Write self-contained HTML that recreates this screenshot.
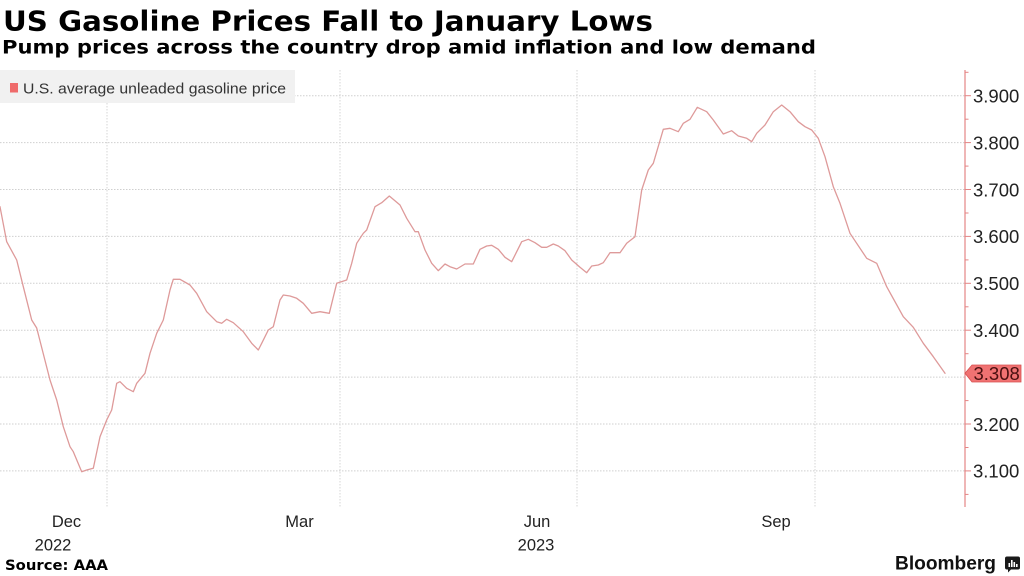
<!DOCTYPE html>
<html>
<head>
<meta charset="utf-8">
<style>
html,body{margin:0;padding:0;background:#fff;}
body{width:1024px;height:576px;overflow:hidden;}
svg{display:block;}
</style>
</head>
<body>
<svg width="1024" height="576" viewBox="0 0 1024 576" xmlns="http://www.w3.org/2000/svg">
<rect x="0" y="0" width="1024" height="576" fill="#ffffff"/>
<!-- Title -->
<text x="3" y="30.5" font-family="DejaVu Sans, Liberation Sans, sans-serif" font-weight="bold" font-size="28" fill="#000" textLength="650" lengthAdjust="spacingAndGlyphs">US Gasoline Prices Fall to January Lows</text>
<text x="2" y="53.5" font-family="DejaVu Sans, Liberation Sans, sans-serif" font-weight="bold" font-size="19" fill="#000" textLength="814" lengthAdjust="spacingAndGlyphs">Pump prices across the country drop amid inflation and low demand</text>

<!-- Horizontal gridlines -->
<g stroke="#cfcfcf" stroke-width="1" stroke-dasharray="1.5,1.5">
<line x1="0" y1="95.7" x2="965" y2="95.7"/>
<line x1="0" y1="142.6" x2="965" y2="142.6"/>
<line x1="0" y1="189.5" x2="965" y2="189.5"/>
<line x1="0" y1="236.4" x2="965" y2="236.4"/>
<line x1="0" y1="283.3" x2="965" y2="283.3"/>
<line x1="0" y1="330.2" x2="965" y2="330.2"/>
<line x1="0" y1="377.1" x2="965" y2="377.1"/>
<line x1="0" y1="424" x2="965" y2="424"/>
<line x1="0" y1="470.9" x2="965" y2="470.9"/>
</g>
<!-- Vertical gridlines -->
<g stroke="#d6d6d6" stroke-width="1" stroke-dasharray="1.5,1.5">
<line x1="107" y1="70" x2="107" y2="508"/>
<line x1="340" y1="70" x2="340" y2="508"/>
<line x1="577" y1="70" x2="577" y2="508"/>
<line x1="815" y1="70" x2="815" y2="508"/>
</g>

<!-- Legend -->
<rect x="0" y="70" width="295" height="33" fill="#f1f1f1"/>
<rect x="10" y="83" width="8" height="9.5" fill="#ef6b6b"/>
<text x="23" y="93.3" font-family="Liberation Sans, DejaVu Sans, sans-serif" font-size="15" fill="#333" textLength="263" lengthAdjust="spacingAndGlyphs">U.S. average unleaded gasoline price</text>

<!-- Data line -->
<polyline fill="none" stroke="#de9a9a" stroke-width="1.3" stroke-linejoin="round" stroke-linecap="round" points="0,206.7 6.7,241.7 16.7,260 23.3,286.7 31.7,320 36.7,328 50,380 56.7,400 63.3,426.7 70,446.7 73.3,451.7 81.7,471.7 86.7,470 93.3,468.3 100,436.7 106.7,420 111.7,410 116.7,383.3 120,381.7 126.7,388.3 133.3,391.7 136.7,383.3 145,373.3 150,353.3 156.7,333.3 163.3,320 170,290 173.3,279.3 180,279.3 190,285 196.7,293.3 206.7,311.7 216.7,321.7 221.7,323.3 226.7,319.3 233.3,322.7 243.3,331.7 251.7,343.3 258.3,350 261.7,343.3 268.3,330 273.3,326.7 280,300 283.3,295 290,296 296.7,298.3 303.3,303.3 311.7,313.3 320,311.7 329.3,313.3 336.7,283.3 346.7,280 351.7,263.3 356.7,243.3 363.3,233.3 366.7,230 375,206.7 381.7,202.7 389.3,196 400,205 406.7,218.3 415,231.7 418.3,231.7 425,250 431.7,263.3 438.3,270.7 445,264 450,266.7 456.7,269 465,264 473.3,264 480,249.3 486.7,246 491.7,245.3 498.3,249.3 505,257.3 511.7,261.7 516.7,251.7 521.7,241.7 528.3,239.3 535,242.7 541.7,247.3 546.7,247.3 553.3,244 558.3,246 565,250.7 571.7,260 580,267.3 586.7,272.7 591.7,266 598.3,265 603.3,262.7 610,252.7 620,252.7 626.7,243.3 635,236.7 641.7,190 648.3,170 653.3,163.3 663.3,129.3 670,128.3 678.3,131.7 683.3,123.3 690,119.3 697.3,107.3 706.7,111.7 713.3,120 723.3,134 731.7,130.7 738.3,136 746.7,138.3 751.7,141.7 756.7,133.3 765,125 773.3,111.7 781.7,105 790,111.7 798.3,121.7 805,126.7 811.7,130 818.3,138.3 825,156.7 833.3,186.7 840,203.3 850,233.3 866.7,258.3 876.7,263.3 886.7,286.7 903.3,316.7 913.3,327.3 923.3,343.3 933.3,356.7 945,373.3"/>

<!-- Right axis -->
<line x1="965" y1="70" x2="965" y2="507" stroke="#e48585" stroke-width="1.2"/>
<g stroke="#e48585" stroke-width="1">
<line x1="965" y1="95.7" x2="971" y2="95.7"/>
<line x1="965" y1="142.6" x2="971" y2="142.6"/>
<line x1="965" y1="189.5" x2="971" y2="189.5"/>
<line x1="965" y1="236.4" x2="971" y2="236.4"/>
<line x1="965" y1="283.3" x2="971" y2="283.3"/>
<line x1="965" y1="330.2" x2="971" y2="330.2"/>
<line x1="965" y1="424" x2="971" y2="424"/>
<line x1="965" y1="470.9" x2="971" y2="470.9"/>
<line x1="965" y1="72.3" x2="968.5" y2="72.3"/>
<line x1="965" y1="119.2" x2="968.5" y2="119.2"/>
<line x1="965" y1="166.1" x2="968.5" y2="166.1"/>
<line x1="965" y1="213" x2="968.5" y2="213"/>
<line x1="965" y1="259.9" x2="968.5" y2="259.9"/>
<line x1="965" y1="306.8" x2="968.5" y2="306.8"/>
<line x1="965" y1="353.7" x2="968.5" y2="353.7"/>
<line x1="965" y1="400.6" x2="968.5" y2="400.6"/>
<line x1="965" y1="447.5" x2="968.5" y2="447.5"/>
<line x1="965" y1="494.4" x2="968.5" y2="494.4"/>
</g>
<g font-family="Liberation Sans, DejaVu Sans, sans-serif" font-size="18.5" fill="#222">
<text x="973" y="102.5">3.900</text>
<text x="973" y="149.4">3.800</text>
<text x="973" y="196.3">3.700</text>
<text x="973" y="243.2">3.600</text>
<text x="973" y="290.1">3.500</text>
<text x="973" y="337">3.400</text>
<text x="973" y="430.8">3.200</text>
<text x="973" y="477.7">3.100</text>
</g>
<!-- Last value label -->
<path d="M965,373.3 L972,365 L1021,365 L1021,382 L972,382 Z" fill="#f07272" stroke="#d85050" stroke-width="0.8"/>
<text x="973.5" y="380" font-family="Liberation Sans, DejaVu Sans, sans-serif" font-size="18.5" fill="#4a1010">3.308</text>

<!-- X-axis labels -->
<g font-family="Liberation Sans, DejaVu Sans, sans-serif" font-size="16.5" fill="#222" text-anchor="middle">
<text x="66.5" y="527">Dec</text>
<text x="53" y="550.5">2022</text>
<text x="299.5" y="527">Mar</text>
<text x="537" y="527">Jun</text>
<text x="536" y="550.5">2023</text>
<text x="776" y="527">Sep</text>
</g>

<!-- Footer -->
<text x="5" y="570" font-family="DejaVu Sans, Liberation Sans, sans-serif" font-weight="bold" font-size="14" fill="#000" textLength="103" lengthAdjust="spacingAndGlyphs">Source: AAA</text>
<text x="895" y="569.5" font-family="Liberation Sans, DejaVu Sans, sans-serif" font-weight="bold" font-size="19" fill="#111" textLength="101" lengthAdjust="spacingAndGlyphs">Bloomberg</text>
<rect x="1005" y="556.5" width="15" height="13" rx="2" fill="#1a1a1a"/>
<path d="M1008,569 L1008,572.5 L1011.5,569 Z" fill="#1a1a1a"/>
<g fill="#fff">
<rect x="1008.5" y="563" width="1.6" height="4"/>
<rect x="1011" y="560" width="1.6" height="7"/>
<rect x="1013.5" y="562" width="1.6" height="5"/>
<rect x="1016" y="564" width="1.6" height="3"/>
</g>
</svg>
</body>
</html>
